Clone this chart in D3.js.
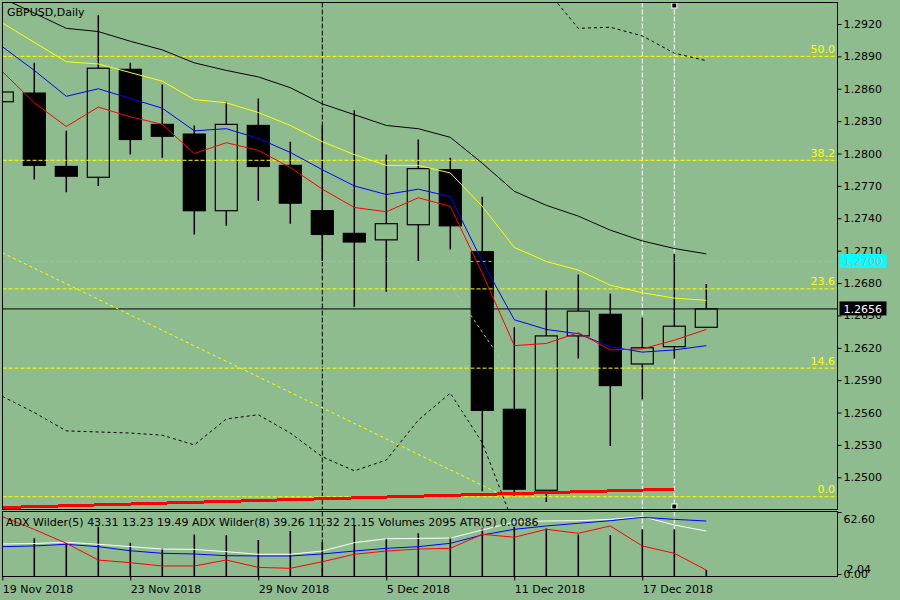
<!DOCTYPE html>
<html lang="en">
<head>
    <meta charset="UTF-8">
    <title>GBPUSD,Daily</title>
    <script src="https://cdn.jsdelivr.net/npm/d3@7"></script>
    <style>
        *{
            margin: 0;
            padding: 0;
        }
        body{
            background: #8fbc8f;
        }
        svg text{
            font-family: "DejaVu Sans", sans-serif;
            font-size: 11px;
        }
    </style>
</head>
<body>
    <div id="content"></div>
    <script>
        // one entry per bar, first bar is cut by the left edge
        var dates = ["19 Nov 2018","20 Nov 2018","21 Nov 2018","22 Nov 2018","23 Nov 2018",
                     "26 Nov 2018","27 Nov 2018","28 Nov 2018","29 Nov 2018","30 Nov 2018",
                     "3 Dec 2018","4 Dec 2018","5 Dec 2018","6 Dec 2018","7 Dec 2018",
                     "10 Dec 2018","11 Dec 2018","12 Dec 2018","13 Dec 2018","14 Dec 2018",
                     "17 Dec 2018","18 Dec 2018","19 Dec 2018"];
        var openP  = [1.2848,1.2856,1.2788,1.2778,1.2878,1.2827,1.2818,1.2747,1.2826,1.2789,1.2747,1.2726,1.2720,1.2734,1.2785,1.2709,1.2563,1.2488,1.2631,1.2651,1.2605,1.2621,1.2639];
        var highP  = [1.2857,1.2884,1.2821,1.2928,1.2884,1.2864,1.2826,1.2848,1.2851,1.2811,1.2826,1.2840,1.2799,1.2813,1.2796,1.2760,1.2639,1.2673,1.2688,1.2670,1.2648,1.2707,1.2679];
        var lowP   = [1.2848,1.2776,1.2764,1.2770,1.2799,1.2796,1.2725,1.2733,1.2756,1.2735,1.2700,1.2658,1.2672,1.2700,1.2711,1.2487,1.2482,1.2477,1.2610,1.2529,1.2572,1.2610,1.2639];
        var closeP = [1.2857,1.2789,1.2779,1.2879,1.2813,1.2816,1.2747,1.2827,1.2788,1.2754,1.2725,1.2718,1.2735,1.2786,1.2733,1.2562,1.2489,1.2631,1.2654,1.2585,1.2620,1.2640,1.2656];

        // moving averages
        var maBlack  = [1.2944,1.2930,1.2916,1.2913,1.2904,1.2896,1.2884,1.2877,1.2871,1.2861,1.2846,1.2836,1.2826,1.2823,1.2815,1.2791,1.2765,1.2752,1.2742,1.2729,1.2719,1.2712,1.2707];
        var maYellow = [1.2921,1.2903,1.2885,1.2883,1.2875,1.2867,1.2850,1.2847,1.2838,1.2826,1.2811,1.2799,1.2789,1.2789,1.2782,1.2751,1.2713,1.2700,1.2692,1.2678,1.2671,1.2666,1.2664];
        var maBlue   = [1.2899,1.2877,1.2853,1.2860,1.2851,1.2842,1.2821,1.2823,1.2814,1.2801,1.2785,1.2770,1.2762,1.2767,1.2760,1.2700,1.2646,1.2637,1.2633,1.2621,1.2616,1.2618,1.2622];
        var maRed    = [1.2876,1.2847,1.2825,1.2843,1.2834,1.2827,1.2800,1.2810,1.2803,1.2787,1.2767,1.2750,1.2746,1.2759,1.2751,1.2689,1.2622,1.2624,1.2634,1.2618,1.2619,1.2627,1.2637];
        // dashed bands (only the visible parts)
        var bandUpper = [null,null,null,null,null,null,null,null,null,null,null,null,null,null,null,null,null,1.2952,1.2916,1.2917,1.2909,1.2893,1.2886];
        var bandLower = [1.2575,1.2560,1.2543,1.2542,1.2541,1.2539,1.2530,1.2554,1.2558,1.2541,1.2519,1.2506,1.2516,1.2553,1.2578,1.2532,1.2455,null,null,null,null,null,null];

        // sub window
        var volumes = [null,13200,11600,17200,11600,9700,14500,14300,12600,15700,11800,17800,13200,14900,13500,16600,17200,16600,14500,14300,16300,16300,2095];
        var adxWhite = [30.3,30.8,32.0,30.0,27.6,25.2,24.9,22.5,19.9,19.9,23.2,31.6,35.6,36.0,36.3,44.4,52.5,53.5,53.8,55.2,57.9,49.5,43.31];
        var adxBlue  = [27.6,28.3,30.0,27.6,23.5,20.9,20.2,18.5,18.2,18.2,20.2,23.2,25.9,27.6,31.0,39.4,45.1,48.5,51.2,53.8,57.2,55.2,53.5];
        var adxRed   = [57.9,45.0,31.0,14.1,11.4,8.1,8.1,14.1,6.7,5.7,12.4,19.9,23.2,25.2,25.9,40.1,37.1,45.1,41.1,48.5,28.3,20.9,4.0];

        // axes
        var priceTicks = [1.2920,1.2890,1.2860,1.2830,1.2800,1.2770,1.2740,1.2710,1.2680,1.2650,1.2620,1.2590,1.2560,1.2530,1.2500];
        var dateTicks = ["19 Nov 2018","23 Nov 2018","29 Nov 2018","5 Dec 2018","11 Dec 2018","17 Dec 2018"];
        var subTicks = [62.60, 0.00];
        var legendText = "ADX Wilder(5) 43.31 13.23 19.49 ADX Wilder(8) 39.26 11.32 21.15 Volumes 2095 ATR(5) 0.0086";

        // objects
        var fibLow = 1.2482, fibHigh = 1.3298;
        var fibLevels = [0.0, 14.6, 23.6, 38.2, 50.0, 61.8, 100.0];
        var bidPrice = 1.2656;
        var alertPrice = 1.2700;
        var trendLine = [{i: -1, p: 1.2708}, {i: 14.8, p: 1.2481}];
        var redTrend = [{i: -1, p: 1.2472}, {i: 20, p: 1.2489}];
        var paleLine = [{i: 13, p: 1.2678}, {i: 15, p: 1.2591}];
        var vLines = [{date: "3 Dec 2018", color: "black", mark: false},
                      {date: "17 Dec 2018", color: "white", mark: false},
                      {date: "18 Dec 2018", color: "white", mark: true}];

        var width = 900, height = 600;
        var left = 2.5, right = 837.5;
        var main = {top: 2.5, bottom: 509.5};
        var sub = {top: 511.5, bottom: 576.5};
        var bg = "#8fbc8f";

        var svg = d3.select("#content").append("svg")
                .attr("width", width).attr("height", height);

        var xScale = d3.scaleLinear().domain([-1, 21]).range([2.3, 706.3]);
        var yScale = d3.scaleLinear().domain([1.2920, 1.2500]).range([24, 477.3]);
        var subScale = d3.scaleLinear().domain([0, 62.6]).range([574, 512]);
        var volScale = d3.scaleLinear().domain([0, 22340]).range([576, 512]);

        var defs = svg.append("defs");
        defs.append("clipPath").attr("id", "clipMain").append("rect")
                .attr("x", 3).attr("y", 3).attr("width", right - 3).attr("height", main.bottom - 3);
        defs.append("clipPath").attr("id", "clipSub").append("rect")
                .attr("x", 3).attr("y", sub.top).attr("width", right - 3).attr("height", sub.bottom - sub.top);

        var bars = dates.map(function(d, k){
            return {i: k - 1, date: d, o: openP[k], h: highP[k], l: lowP[k], c: closeP[k]};
        });
        function series(arr){
            return arr.map(function(v, k){ return {i: k - 1, v: v}; });
        }
        function idxOf(date){ return dates.indexOf(date) - 1; }

        /* vertical lines through both windows, behind the bars */
        var vG = svg.append("g");
        vLines.forEach(function(v){
            var x = xScale(idxOf(v.date));
            vG.append("line").attr("x1", x).attr("x2", x).attr("y1", main.top).attr("y2", main.bottom)
                    .attr("stroke", v.color).attr("stroke-dasharray", "5,2");
            vG.append("line").attr("x1", x).attr("x2", x).attr("y1", sub.top).attr("y2", sub.bottom)
                    .attr("stroke", v.color).attr("stroke-dasharray", "5,2");
        });

        var gMain = svg.append("g").attr("clip-path", "url(#clipMain)");

        /* candles */
        gMain.selectAll("line.wick").data(bars).enter().append("line")
                .attr("class", "wick")
                .attr("x1", function(d){ return xScale(d.i); })
                .attr("x2", function(d){ return xScale(d.i); })
                .attr("y1", function(d){ return yScale(d.h); })
                .attr("y2", function(d){ return yScale(d.l); })
                .attr("stroke", "black").attr("stroke-width", 1.5);

        gMain.selectAll("rect.body").data(bars).enter().append("rect")
                .attr("class", "body")
                .attr("x", function(d){ return xScale(d.i) - 11; })
                .attr("y", function(d){ return yScale(Math.max(d.o, d.c)); })
                .attr("width", 22)
                .attr("height", function(d){ return Math.max(1, Math.abs(yScale(d.o) - yScale(d.c))); })
                .attr("fill", function(d){ return d.c >= d.o ? bg : "black"; })
                .attr("stroke", "black").attr("stroke-width", 1.2);

        /* horizontal objects */
        var fibG = gMain.append("g");
        fibLevels.forEach(function(lv){
            var p = fibLow + (fibHigh - fibLow) * lv / 100;
            var y = yScale(p);
            if(y < main.top + 12 || y > main.bottom) return;
            fibG.append("line").attr("x1", left).attr("x2", right).attr("y1", y).attr("y2", y)
                    .attr("stroke", "yellow").attr("stroke-dasharray", "4,2");
            fibG.append("text").attr("x", 835).attr("y", y - 3.5)
                    .attr("text-anchor", "end").attr("fill", "yellow")
                    .text(lv.toFixed(1));
        });

        gMain.append("line").attr("x1", left).attr("x2", right)
                .attr("y1", yScale(alertPrice)).attr("y2", yScale(alertPrice))
                .attr("stroke", "#00ffff").attr("stroke-dasharray", "3,3");

        gMain.append("line").attr("x1", left).attr("x2", right)
                .attr("y1", yScale(bidPrice)).attr("y2", yScale(bidPrice))
                .attr("stroke", "black");

        /* lines */
        var priceLine = d3.line()
                .defined(function(d){ return d.v != null; })
                .x(function(d){ return xScale(d.i); })
                .y(function(d){ return yScale(d.v); });
        var objLine = d3.line()
                .x(function(d){ return xScale(d.i); })
                .y(function(d){ return yScale(d.p); });

        gMain.append("path").attr("d", objLine(trendLine)).attr("fill", "none")
                .attr("stroke", "yellow").attr("stroke-dasharray", "3,3");
        gMain.append("path").attr("d", objLine(paleLine)).attr("fill", "none")
                .attr("stroke", "#9ec79e").attr("stroke-dasharray", "3,3");
        gMain.append("path").attr("d", objLine(redTrend)).attr("fill", "none")
                .attr("stroke", "red").attr("stroke-width", 3).attr("shape-rendering", "crispEdges");

        [[bandUpper, "black", "3,3"], [bandLower, "black", "3,3"],
         [maBlack, "black", null], [maYellow, "yellow", null],
         [maBlue, "blue", null], [maRed, "red", null]].forEach(function(s){
            gMain.append("path").attr("d", priceLine(series(s[0]))).attr("fill", "none")
                    .attr("stroke", s[1]).attr("stroke-width", 1)
                    .attr("stroke-dasharray", s[2]);
        });

        /* selected line markers */
        vLines.filter(function(v){ return v.mark; }).forEach(function(v){
            var x = xScale(idxOf(v.date));
            [5.5, 506.5].forEach(function(y){
                svg.append("rect").attr("x", x - 2.5).attr("y", y - 2.5)
                        .attr("width", 5).attr("height", 5)
                        .attr("fill", "black").attr("stroke", "white");
            });
        });

        /* sub window */
        var gSub = svg.append("g").attr("clip-path", "url(#clipSub)");
        gSub.selectAll("line.vol").data(series(volumes).filter(function(d){ return d.v != null; }))
                .enter().append("line")
                .attr("x1", function(d){ return xScale(d.i); })
                .attr("x2", function(d){ return xScale(d.i); })
                .attr("y1", volScale(0))
                .attr("y2", function(d){ return volScale(d.v); })
                .attr("stroke", "black").attr("stroke-width", 1.6);

        var subLine = d3.line()
                .x(function(d){ return xScale(d.i); })
                .y(function(d){ return subScale(d.v); });
        [[adxWhite, "white"], [adxBlue, "blue"], [adxRed, "red"]].forEach(function(s){
            gSub.append("path").attr("d", subLine(series(s[0]))).attr("fill", "none")
                    .attr("stroke", s[1]).attr("stroke-width", 1);
        });

        /* frames */
        svg.append("rect").attr("x", left).attr("y", main.top)
                .attr("width", right - left).attr("height", main.bottom - main.top)
                .attr("fill", "none").attr("stroke", "black");
        svg.append("rect").attr("x", left).attr("y", sub.top)
                .attr("width", right - left).attr("height", sub.bottom - sub.top)
                .attr("fill", "none").attr("stroke", "black");

        /* price axis */
        var yAxis = svg.append("g")
                .attr("transform", "translate(" + right + ",0)")
                .call(d3.axisRight(yScale).tickValues(priceTicks).tickSize(4).tickPadding(2)
                        .tickFormat(d3.format(".4f")));
        yAxis.select(".domain").remove();
        yAxis.selectAll("text").attr("font-family", null).attr("font-size", null).attr("fill", "black");

        /* date axis */
        var xAxis = svg.append("g")
                .attr("transform", "translate(0," + sub.bottom + ")")
                .call(d3.axisBottom(xScale).tickValues(dateTicks.map(idxOf)).tickSize(4).tickPadding(5)
                        .tickFormat(function(i){ return dates[i + 1]; }));
        xAxis.select(".domain").remove();
        xAxis.selectAll("text").attr("font-family", null).attr("font-size", null)
                .attr("fill", "black").attr("text-anchor", "start");

        /* sub axis */
        var sAxis = svg.append("g")
                .attr("transform", "translate(" + right + ",0)")
                .call(d3.axisRight(subScale).tickValues(subTicks).tickSize(4).tickPadding(2)
                        .tickFormat(d3.format(".2f")));
        sAxis.select(".domain").remove();
        sAxis.selectAll("text").attr("font-family", null).attr("font-size", null).attr("fill", "black")
                .attr("dy", function(d){ return d > 0 ? "0.95em" : "0.32em"; });
        svg.append("text").attr("x", 846.5).attr("y", 573.3).attr("fill", "black").text("2.04");

        /* price labels */
        [[alertPrice, "#00ffff", "#b0b0b0"], [bidPrice, "black", "white"]].forEach(function(s){
            var y = yScale(s[0]);
            svg.append("rect").attr("x", 839.5).attr("y", y - 7.5).attr("width", 47).attr("height", 14)
                    .attr("fill", s[1]);
            svg.append("text").attr("x", 843.5).attr("y", y + 4).attr("fill", s[2])
                    .text(s[0].toFixed(4));
        });

        /* texts */
        svg.append("text").attr("x", 7).attr("y", 15.5).attr("fill", "black").text("GBPUSD,Daily");
        svg.append("text").attr("x", 6).attr("y", 526).attr("fill", "black").text(legendText);
    </script>
</body>
</html>
